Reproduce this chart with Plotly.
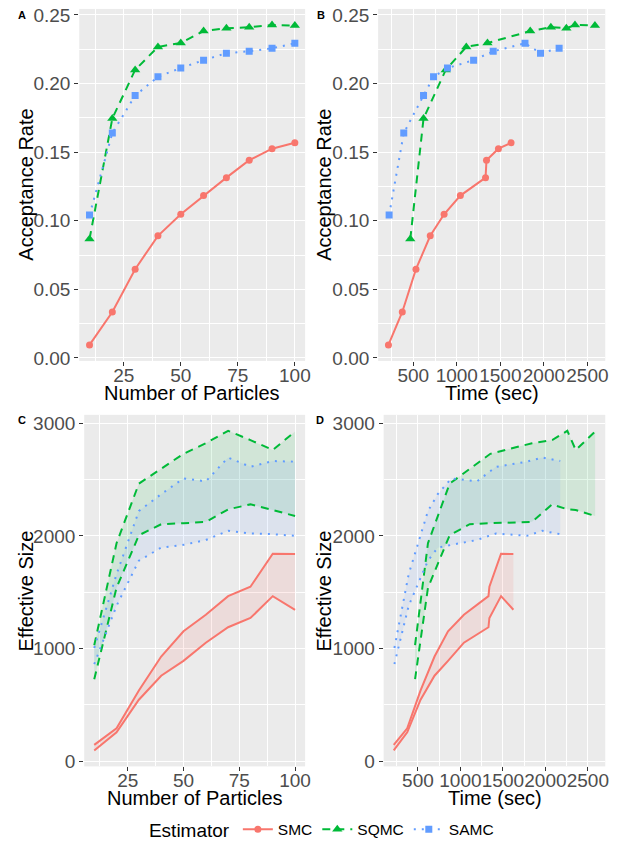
import numpy as np
import plotly.graph_objects as go

# ---------------- data ----------------
particles = [10, 20, 30, 40, 50, 60, 70, 80, 90, 100]
methods = ["SMC", "SQMC", "SAMC"]

smc_acc = [0.0095, 0.0335, 0.0647, 0.0890, 0.1047, 0.1183, 0.1314, 0.1441, 0.1525, 0.1568]
sqmc_acc = [0.0867, 0.1745, 0.2099, 0.2267, 0.2295, 0.2382, 0.2403, 0.2410, 0.2427, 0.2422]
samc_acc = [0.1041, 0.1639, 0.1912, 0.2049, 0.2113, 0.2170, 0.2221, 0.2235, 0.2257, 0.2293]

smc_time = [215, 374, 531, 695, 854, 1041, 1330, 1341, 1478, 1623]
sqmc_time = [466, 618, 873, 1109, 1352, 1843, 2258, 2080, 2357, 2586]
samc_time = [223, 391, 618, 733, 893, 1193, 1961, 1418, 2175, 1783]

smc_ess_lo = [96, 257, 546, 759, 891, 1052, 1189, 1271, 1465, 1344]
smc_ess_hi = [145, 292, 628, 929, 1153, 1300, 1465, 1548, 1841, 1839]
sqmc_ess_lo = [728, 1540, 2005, 2103, 2112, 2124, 2235, 2279, 2229, 2176]
sqmc_ess_hi = [1030, 1935, 2463, 2595, 2728, 2822, 2932, 2850, 2762, 2925]
samc_ess_lo = [862, 1380, 1780, 1895, 1920, 1963, 2045, 2021, 2015, 2000]
samc_ess_hi = [1005, 1660, 2220, 2370, 2510, 2483, 2695, 2612, 2664, 2658]

acc = {"SMC": smc_acc, "SQMC": sqmc_acc, "SAMC": samc_acc}
times = {"SMC": smc_time, "SQMC": sqmc_time, "SAMC": samc_time}
ess_lo = {"SMC": smc_ess_lo, "SQMC": sqmc_ess_lo, "SAMC": samc_ess_lo}
ess_hi = {"SMC": smc_ess_hi, "SQMC": sqmc_ess_hi, "SAMC": samc_ess_hi}

# ---------------- styles ----------------
colors = {"SMC": "#F8766D", "SQMC": "#00BA38", "SAMC": "#619CFF"}
fills = {"SMC": "rgba(248,118,109,0.13)", "SQMC": "rgba(0,186,56,0.11)", "SAMC": "rgba(97,156,255,0.11)"}
dashes = {"SMC": "solid", "SQMC": "8px,6px", "SAMC": "2px,6px"}
symbols = {"SMC": "circle", "SQMC": "triangle-up", "SAMC": "square"}
msizes = {"SMC": 7, "SQMC": 9, "SAMC": 7}

W, H = 638, 852
FONT = "Liberation Sans, Arial, sans-serif"


def fx(p):
    return p / W


def fy(p):
    return 1 - p / H


def expand(lo, hi, f=0.05):
    d = hi - lo
    return [lo - f * d, hi + f * d]


fig = go.Figure()

# ---- Panel A ----
for m in methods:
    fig.add_trace(go.Scatter(
        x=particles, y=acc[m], mode="lines+markers", name=m,
        line=dict(color=colors[m], width=2, dash=dashes[m]),
        marker=dict(symbol=symbols[m], size=msizes[m], color=colors[m]),
        xaxis="x", yaxis="y", showlegend=True, legendgroup=m))

# ---- Panel B ----
for m in methods:
    order = np.argsort(times[m])
    fig.add_trace(go.Scatter(
        x=np.array(times[m])[order], y=np.array(acc[m])[order], mode="lines+markers", name=m,
        line=dict(color=colors[m], width=2, dash=dashes[m]),
        marker=dict(symbol=symbols[m], size=msizes[m], color=colors[m]),
        xaxis="x2", yaxis="y2", showlegend=False, legendgroup=m))

# ---- Panels C and D ----
for xa, ya, use_time in [("x3", "y3", False), ("x4", "y4", True)]:
    for m in methods:
        xs = np.array(times[m]) if use_time else np.array(particles)
        order = np.argsort(xs, kind="stable")
        xs = xs[order]
        lo = np.array(ess_lo[m])[order]
        hi = np.array(ess_hi[m])[order]
        fig.add_trace(go.Scatter(
            x=np.concatenate([xs, xs[::-1]]), y=np.concatenate([hi, lo[::-1]]),
            fill="toself", fillcolor=fills[m], line=dict(width=0), mode="lines",
            hoverinfo="skip", xaxis=xa, yaxis=ya, showlegend=False))
    for m in methods:
        xs = np.array(times[m]) if use_time else np.array(particles)
        order = np.argsort(xs, kind="stable")
        xs = xs[order]
        for arr in (ess_lo[m], ess_hi[m]):
            fig.add_trace(go.Scatter(
                x=xs, y=np.array(arr)[order], mode="lines",
                line=dict(color=colors[m], width=2, dash=dashes[m]),
                xaxis=xa, yaxis=ya, showlegend=False))

all_acc = smc_acc + sqmc_acc + samc_acc
all_time = smc_time + sqmc_time + samc_time
all_ess = smc_ess_lo + smc_ess_hi + sqmc_ess_lo + sqmc_ess_hi + samc_ess_lo + samc_ess_hi

tick_font = dict(family=FONT, size=19, color="#4D4D4D")


def axis(domain, rng, dtick, minor_dtick, anchor, fmt=None, is_x=False):
    d = dict(domain=domain, range=rng, dtick=dtick, tick0=0, anchor=anchor,
             showgrid=True, gridcolor="white", gridwidth=1.1,
             minor=dict(dtick=minor_dtick, tick0=0, showgrid=True, gridcolor="white", gridwidth=0.5, ticks=""),
             zeroline=False, showline=False, ticks="outside", ticklen=4, tickwidth=1.1,
             tickcolor="#333333", tickfont=tick_font, tickangle=0)
    if is_x:
        d["ticklabelstandoff"] = -7
    if fmt:
        d["tickformat"] = fmt
    return d


xr_n = expand(min(particles), max(particles))
xr_t = expand(min(all_time), max(all_time))
yr_a = expand(min(all_acc), max(all_acc))
yr_e = expand(min(all_ess), max(all_ess))

dom_y_top = [fy(362), fy(5)]
dom_y_bot = [fy(773.3), fy(416.7)]

fig.update_layout(
    width=W, height=H,
    margin=dict(l=0, r=0, t=0, b=0),
    paper_bgcolor="white", plot_bgcolor="#EBEBEB",
    font=dict(family=FONT, color="black"),
    xaxis=axis([fx(80), fx(308)], xr_n, 25, 12.5, "y", is_x=True),
    yaxis=axis(dom_y_top, yr_a, 0.05, 0.025, "x", ".2f"),
    xaxis2=axis([fx(381.7), fx(611)], xr_t, 500, 250, "y2", is_x=True),
    yaxis2=axis(dom_y_top, yr_a, 0.05, 0.025, "x2", ".2f"),
    xaxis3=axis([fx(85), fx(308)], xr_n, 25, 12.5, "y3", is_x=True),
    yaxis3=axis(dom_y_bot, yr_e, 1000, 500, "x3"),
    xaxis4=axis([fx(387.3), fx(611)], xr_t, 500, 250, "y4", is_x=True),
    yaxis4=axis(dom_y_bot, yr_e, 1000, 500, "x4"),
    legend=dict(orientation="h", x=fx(326), xanchor="center", y=fy(838), yanchor="middle",
                title=dict(text="Estimator", font=dict(size=19, family=FONT, color="black"), side="left"),
                font=dict(size=15.5, family=FONT, color="black"),
                bgcolor="rgba(0,0,0,0)", itemwidth=30),
    showlegend=True,
)

ann = []
title_font = dict(family=FONT, size=20, color="black")
for text, x, y in [("Number of Particles", 194, 395), ("Time (sec)", 496.4, 395),
                   ("Number of Particles", 196.5, 805.5), ("Time (sec)", 499.2, 805.5)]:
    ann.append(dict(text=text, x=fx(x), y=fy(y), xref="paper", yref="paper",
                    xanchor="center", yanchor="middle", showarrow=False, font=title_font))
for text, x, y in [("Acceptance Rate", 26, 183.5), ("Acceptance Rate", 327, 183.5),
                   ("Effective Size", 26, 595), ("Effective Size", 327, 595)]:
    ann.append(dict(text=text, x=fx(x), y=fy(y), xref="paper", yref="paper", textangle=-90,
                    xanchor="center", yanchor="middle", showarrow=False, font=title_font))
for text, x, y in [("A", 22.7, 11), ("B", 324, 11), ("C", 22.7, 421.7), ("D", 323.3, 421.7)]:
    ann.append(dict(text="<b>%s</b>" % text, x=fx(x), y=fy(y), xref="paper", yref="paper",
                    xanchor="center", yanchor="middle", showarrow=False,
                    font=dict(family=FONT, size=11, color="black")))
fig.update_layout(annotations=ann)

fig.write_html("out.html", config={"displayModeBar": False},
               post_script="document.body.style.margin='0';document.body.style.padding='0';")
